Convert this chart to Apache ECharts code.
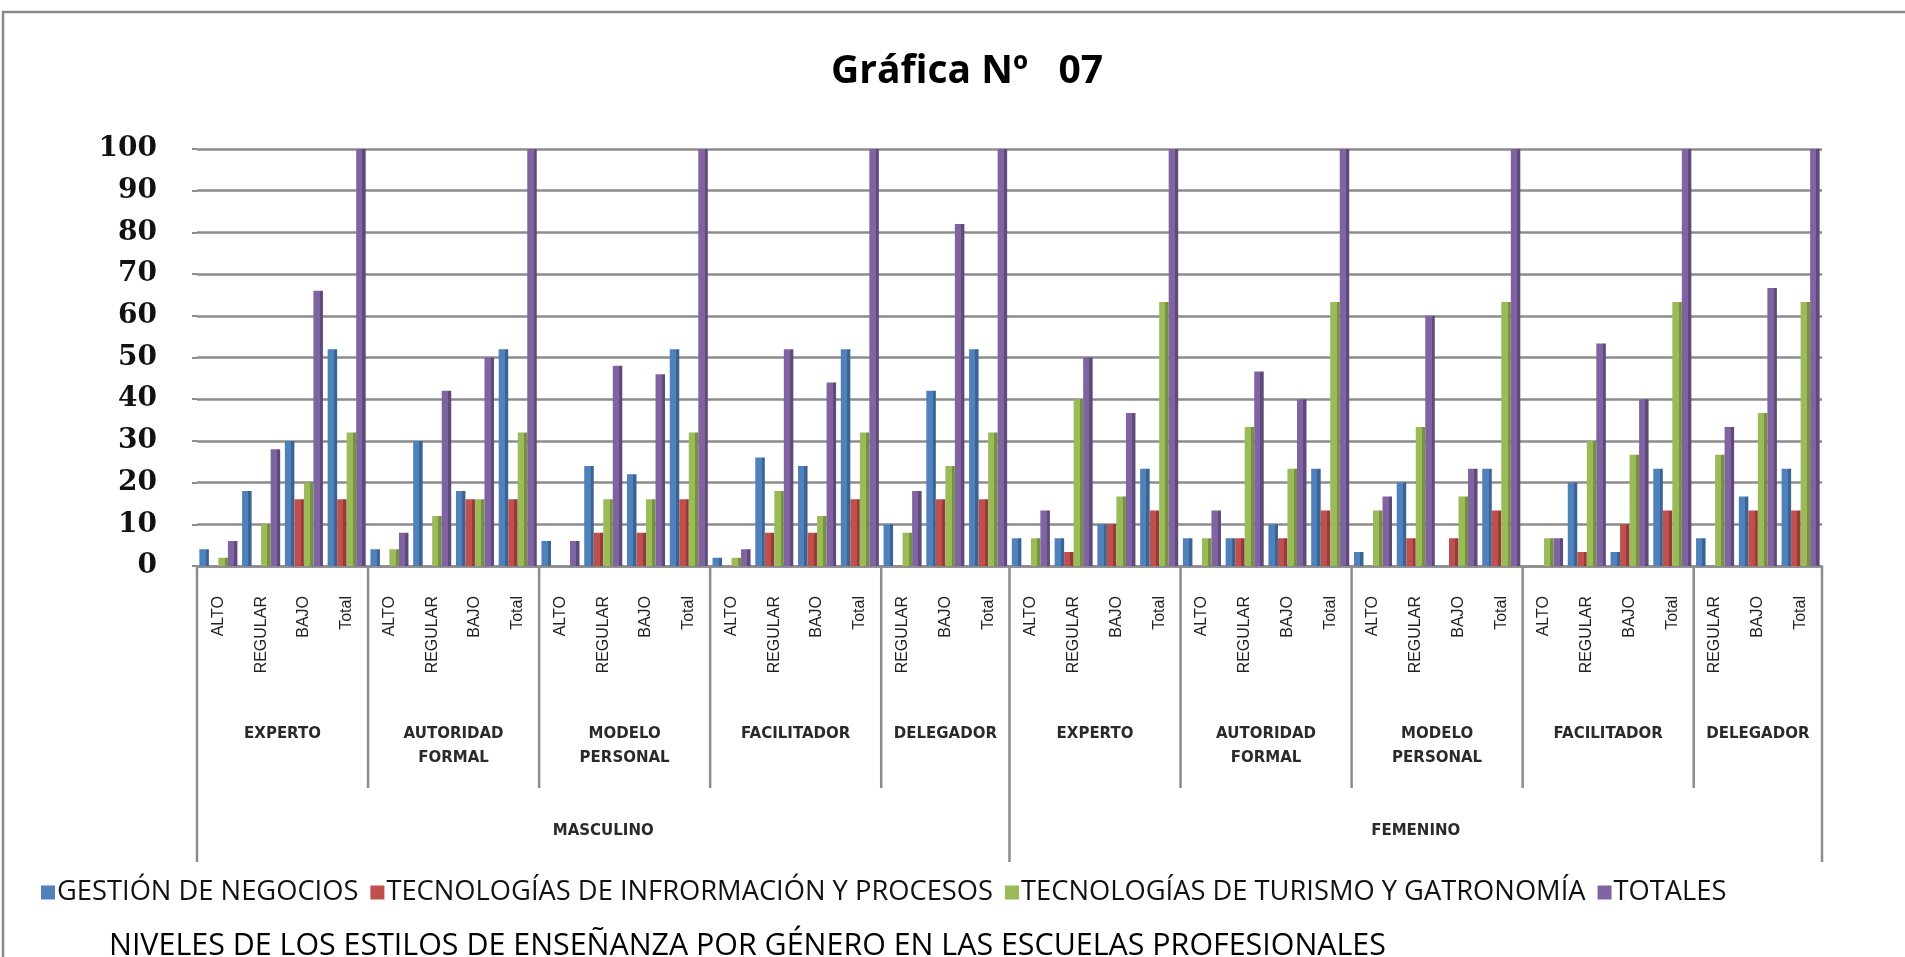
<!DOCTYPE html>
<html>
<head>
<meta charset="utf-8">
<script src="https://cdn.jsdelivr.net/npm/echarts@6/dist/echarts.min.js"></script>
<style>
html,body{margin:0;padding:0;background:#fff;}
#main{width:1905px;height:957px;}
</style>
</head>
<body>
<div id="main"></div>
<script>
// ---------- DATA ----------
const levels = [
  'ALTO','REGULAR','BAJO','Total', 'ALTO','REGULAR','BAJO','Total', 'ALTO','REGULAR','BAJO','Total', 'ALTO','REGULAR','BAJO','Total', 'REGULAR','BAJO','Total',
  'ALTO','REGULAR','BAJO','Total', 'ALTO','REGULAR','BAJO','Total', 'ALTO','REGULAR','BAJO','Total', 'ALTO','REGULAR','BAJO','Total', 'REGULAR','BAJO','Total'
];
const styleNames = ['EXPERTO', 'AUTORIDAD\nFORMAL', 'MODELO\nPERSONAL', 'FACILITADOR', 'DELEGADOR'];
const styleSizes = [4, 4, 4, 4, 3];
const genders = ['MASCULINO', 'FEMENINO'];
const seriesNames = [
  'GESTIÓN DE NEGOCIOS',
  'TECNOLOGÍAS DE INFRORMACIÓN Y PROCESOS',
  'TECNOLOGÍAS DE TURISMO Y GATRONOMÍA',
  'TOTALES'
];
const gestion = [
  4, 18, 30, 52,   4, 30, 18, 52,   6, 24, 22, 52,   2, 26, 24, 52,   10, 42, 52,
  6.67, 6.67, 10, 23.33,   6.67, 6.67, 10, 23.33,   3.33, 20, 0, 23.33,   0, 20, 3.33, 23.33,   6.67, 16.67, 23.33
];
const tecInfo = [
  0, 0, 16, 16,   0, 0, 16, 16,   0, 8, 8, 16,   0, 8, 8, 16,   0, 16, 16,
  0, 3.33, 10, 13.33,   0, 6.67, 6.67, 13.33,   0, 6.67, 6.67, 13.33,   0, 3.33, 10, 13.33,   0, 13.33, 13.33
];
const tecTurismo = [
  2, 10, 20, 32,   4, 12, 16, 32,   0, 16, 16, 32,   2, 18, 12, 32,   8, 24, 32,
  6.67, 40, 16.67, 63.33,   6.67, 33.33, 23.33, 63.33,   13.33, 33.33, 16.67, 63.33,   6.67, 30, 26.67, 63.33,   26.67, 36.67, 63.33
];
const totales = [
  6, 28, 66, 100,   8, 42, 50, 100,   6, 48, 46, 100,   4, 52, 44, 100,   18, 82, 100,
  13.33, 50, 36.67, 100,   13.33, 46.67, 40, 100,   16.67, 60, 23.33, 100,   6.67, 53.33, 40, 100,   33.33, 66.67, 100
];
const yTicks = [0, 100, 10]; // min, max, interval
const seriesData = [gestion, tecInfo, tecTurismo, totales];

// ---------- STYLE ----------
const colors = ['#4F81BD', '#C0504D', '#9BBB59', '#8064A2'];
const darks  = ['#3A6491', '#953B39', '#76913F', '#5F4A7C'];
const gridColor = '#8c8c8c';

const chart = echarts.init(document.getElementById('main'), null, {renderer: 'canvas'});

function barFill(i) {
  return new echarts.graphic.LinearGradient(0, 0, 1, 0, [
    {offset: 0, color: colors[i]},
    {offset: 0.66, color: colors[i]},
    {offset: 0.66, color: darks[i]},
    {offset: 1, color: darks[i]}
  ]);
}

const option = {
  animation: false,
  backgroundColor: '#ffffff',
  title: [
    {
      text: 'Gráfica Nº   07',
      left: 962, top: 44, textAlign: 'center',
      textStyle: {fontFamily: '"Open Sans"', fontWeight: 'bold', fontSize: 39, lineHeight: 46, color: '#000'}
    },
    {
      text: 'NIVELES DE LOS ESTILOS DE ENSEÑANZA POR GÉNERO EN LAS ESCUELAS PROFESIONALES',
      left: 104, top: 923,
      textStyle: {fontFamily: '"Open Sans"', fontWeight: 'normal', fontSize: 30.4, lineHeight: 36, color: '#000'}
    }
  ],
  legend: {
    left: 36, top: 874,
    itemWidth: 14, itemHeight: 14, itemGap: 12,
    icon: 'rect',
    textStyle: {fontFamily: '"Open Sans"', fontSize: 27.3, color: '#111', padding: [0, 0, 0, -3]},
    data: seriesNames.map((n, i) => ({name: n, itemStyle: {color: colors[i]}}))
  },
  grid: {left: 197, right: 83, top: 149, bottom: 391, containLabel: false},
  xAxis: {
    type: 'category',
    data: levels,
    axisLine: {lineStyle: {color: gridColor, width: 2.5}},
    axisTick: {show: false},
    axisLabel: {
      interval: 0, rotate: 90, margin: 30,
      fontFamily: '"Liberation Sans"', fontSize: 16, color: '#222'
    },
    splitLine: {show: false}
  },
  yAxis: {
    type: 'value',
    min: yTicks[0], max: yTicks[1], interval: yTicks[2],
    axisLine: {show: false},
    axisTick: {show: true, length: 5, lineStyle: {color: gridColor, width: 2}},
    axisLabel: {
      margin: 40,
      fontFamily: '"DejaVu Serif"', fontWeight: 'bold', fontSize: 28, color: '#111',
      padding: [14, 0, 0, 0]
    },
    splitLine: {lineStyle: {color: gridColor, width: 2.5}}
  },
  series: seriesData.map((d, i) => ({
    name: seriesNames[i],
    type: 'bar',
    data: d,
    barGap: '0%',
    barCategoryGap: '11%',
    itemStyle: {color: barFill(i)},
    emphasis: {disabled: true}
  }))
};
chart.setOption(option);

// ---------- multi-level category axis (derived from the axis scale) ----------
function xPix(i) { return chart.convertToPixel({xAxisIndex: 0}, i); }
function drawGroups() {
  const bw = xPix(1) - xPix(0);
  const yAxisPix = chart.convertToPixel({yAxisIndex: 0}, 0);
  const els = [];
  const sepStyle = {stroke: gridColor, lineWidth: 2.5};
  const groupFont = 'bold 15px "DejaVu Sans"';
  const line = (x, y2) => ({
    type: 'line', silent: true,
    shape: {x1: x, y1: yAxisPix, x2: x, y2: y2},
    style: sepStyle
  });
  const label = (t, x, y) => ({
    type: 'text', silent: true,
    style: {text: t, x: x, y: y, textAlign: 'center', textVerticalAlign: 'top',
            font: groupFont, fill: '#2a2a2a', lineHeight: 24}
  });
  let idx = 0;
  genders.forEach((g, gi) => {
    const gStart = idx;
    styleNames.forEach((s, si) => {
      const n = styleSizes[si];
      const left = xPix(idx) - bw / 2;
      const right = xPix(idx + n - 1) + bw / 2;
      if (si > 0) els.push(line(left, 788));
      els.push(label(s, (left + right) / 2, 722));
      idx += n;
    });
    const gLeft = xPix(gStart) - bw / 2;
    const gRight = xPix(idx - 1) + bw / 2;
    els.push(line(gLeft, 862));
    if (gi === genders.length - 1) els.push(line(gRight, 862));
    els.push(label(g, (gLeft + gRight) / 2, 819));
  });
  // outer chart frame
  els.push({
    type: 'rect', silent: true,
    shape: {x: 3, y: 12, width: 1940, height: 980},
    style: {fill: 'none', stroke: '#888', lineWidth: 2.5}
  });
  chart.setOption({graphic: {elements: els}});
}
drawGroups();
</script>
</body>
</html>
